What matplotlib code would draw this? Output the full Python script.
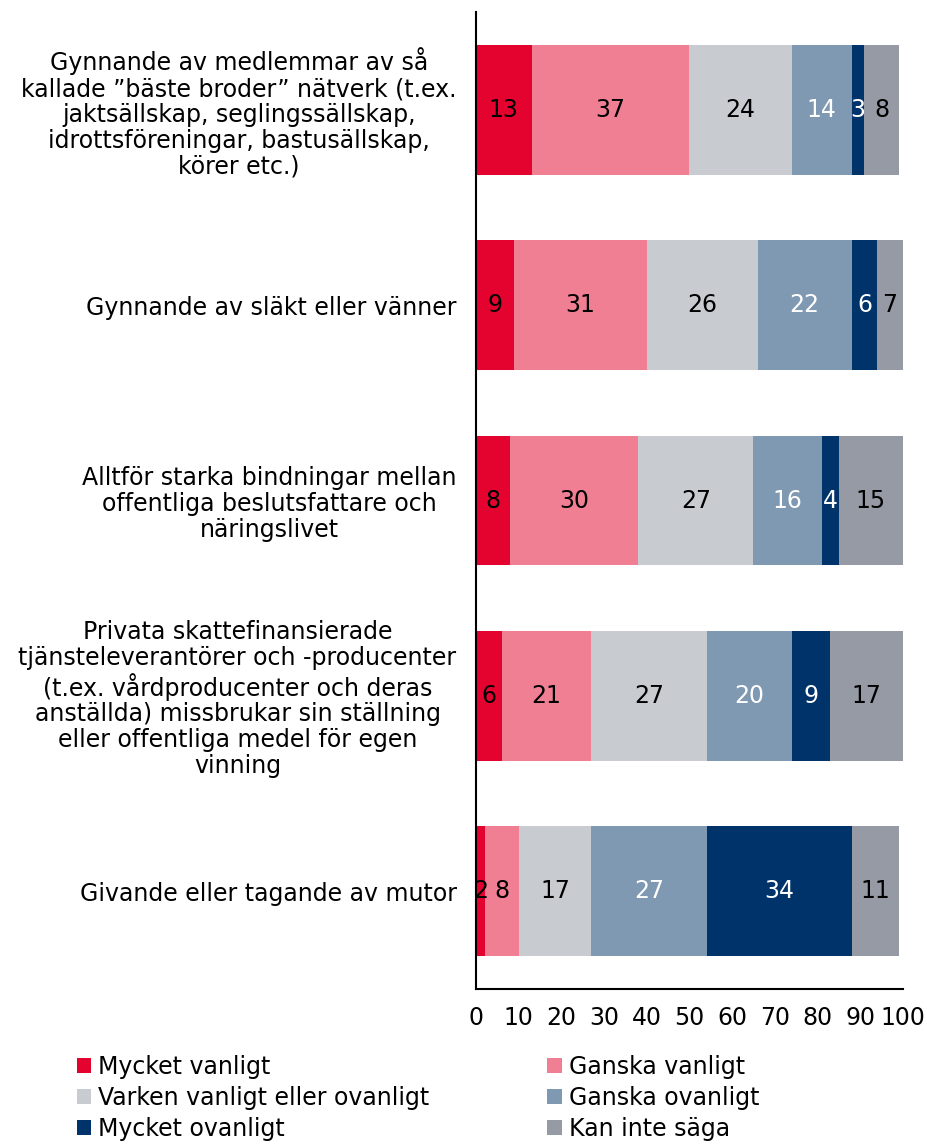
import numpy as np
import matplotlib.pyplot as plt

# survey answers, percent
statements = [
    'Gynnande av medlemmar av så\nkallade ”bäste broder” nätverk (t.ex.\njaktsällskap, seglingssällskap,\nidrottsföreningar, bastusällskap,\nkörer etc.)',
    'Gynnande av släkt eller vänner',
    'Alltför starka bindningar mellan\noffentliga beslutsfattare och\nnäringslivet',
    'Privata skattefinansierade\ntjänsteleverantörer och -producenter\n(t.ex. vårdproducenter och deras\nanställda) missbrukar sin ställning\neller offentliga medel för egen\nvinning',
    'Givande eller tagande av mutor',
]
answers = ['Mycket vanligt', 'Ganska vanligt', 'Varken vanligt eller ovanligt',
           'Ganska ovanligt', 'Mycket ovanligt', 'Kan inte säga']
mycket_vanligt = [13, 9, 8, 6, 2]
ganska_vanligt = [37, 31, 30, 21, 8]
varken = [24, 26, 27, 27, 17]
ganska_ovanligt = [14, 22, 16, 20, 27]
mycket_ovanligt = [3, 6, 4, 9, 34]
kan_inte = [8, 7, 15, 17, 11]
xticks = [0, 10, 20, 30, 40, 50, 60, 70, 80, 90, 100]

series = [mycket_vanligt, ganska_vanligt, varken, ganska_ovanligt, mycket_ovanligt, kan_inte]
colors = ['#E4032E', '#F07F94', '#C8CBD0', '#7F99B2', '#00336A', '#959AA5']
textcolors = ['black', 'black', 'black', 'white', 'white', 'black']

plt.rcParams['font.family'] = ['DejaVu Sans']
fs = 17

fig = plt.figure(figsize=(9.27, 11.44), dpi=100)
ax = fig.add_axes([0.5135, 0.1355, 0.4605, 0.854])

y = np.arange(len(statements))
left = np.zeros(len(statements))
bars = []
for vals, col, tcol, name in zip(series, colors, textcolors, answers):
    b = ax.barh(y, vals, left=left, height=0.665, color=col, label=name)
    ax.bar_label(b, labels=[str(v) for v in vals], label_type='center',
                 color=tcol, fontsize=fs)
    bars.append(b)
    left += np.array(vals)

ax.set_ylim(len(statements) - 0.5, -0.5)
ax.set_xlim(0, 100)
ax.set_xticks(xticks)
ax.set_yticks(y)
ax.set_yticklabels(statements, fontsize=fs, multialignment='center', linespacing=1.1)
ax.tick_params(axis='both', length=0)
ax.tick_params(axis='y', pad=14)
ax.tick_params(axis='x', labelsize=fs, pad=12)
for s in ['top', 'right']:
    ax.spines[s].set_visible(False)
ax.spines['left'].set_linewidth(1.5)
ax.spines['bottom'].set_linewidth(1.5)

# order so rows read left to right like the original
order = [0, 2, 4, 1, 3, 5]
fig.legend([bars[i] for i in order], [answers[i] for i in order], ncol=2,
           loc='lower left', bbox_to_anchor=(0.06, -0.016), frameon=False,
           fontsize=fs, handlelength=0.6, handleheight=0.6, handletextpad=0.3,
           columnspacing=5.0, labelspacing=0.3)

fig.savefig('out.png', dpi=100)
